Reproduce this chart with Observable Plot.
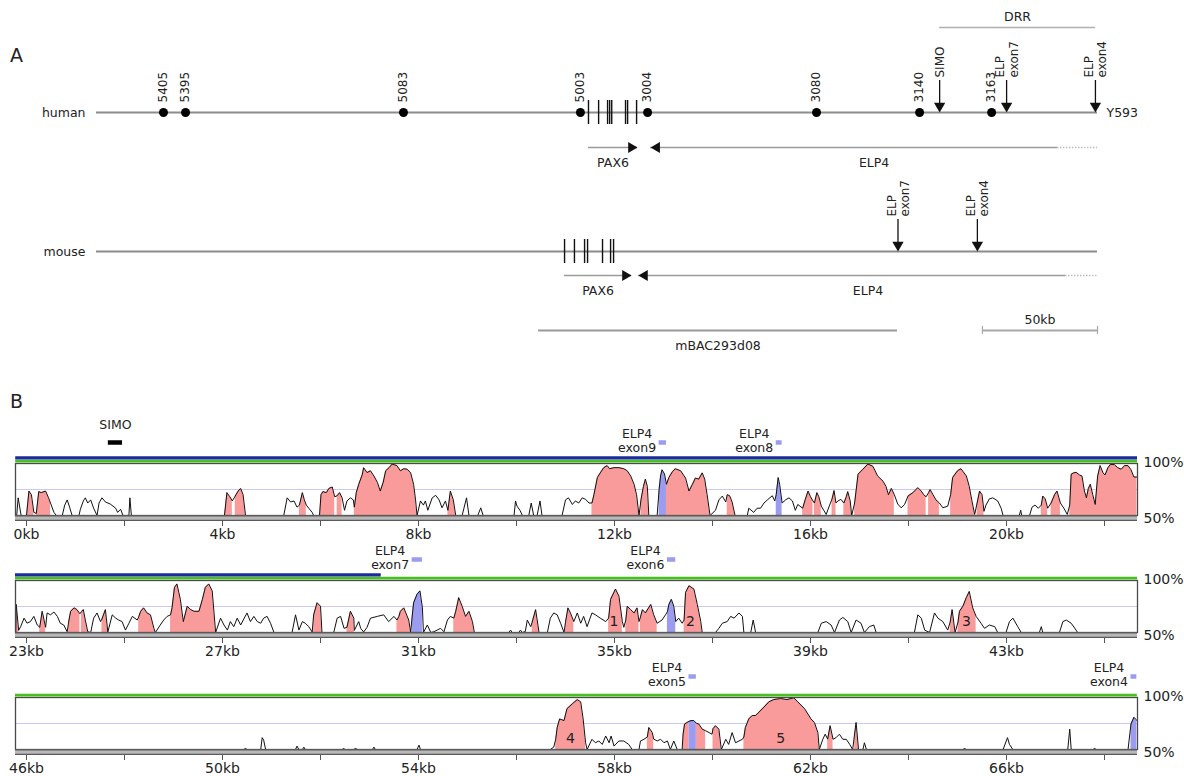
<!DOCTYPE html>
<html>
<head>
<meta charset="utf-8">
<script src="https://cdn.jsdelivr.net/npm/d3@7"></script>
<script src="https://cdn.jsdelivr.net/npm/@observablehq/plot@0.6"></script>
<style>
  body { margin: 0; background: #fff; font-family: "DejaVu Sans", sans-serif; }
  #chart { position: relative; width: 1184px; height: 776px; overflow: hidden; background: #fff; }
  .letter { position: absolute; font-size: 19px; line-height: 1; color: #222; font-family: "DejaVu Sans", sans-serif; }
</style>
</head>
<body>
<div id="chart"></div>
<script>
// ================= DATA : panel A (positions in kb along the human / mouse locus) =================
const locusLengthKb = 435;
const humanMarkerNames = ["5405", "5395", "5083", "5003", "3004", "3080", "3140", "3163"];
const humanMarkerKb = [29.1, 38.7, 133.4, 210.3, 239.5, 312.9, 357.7, 389.0];
const humanPax6ExonKb = [213.8, 218.2, 222.1, 223.0, 223.9, 229.9, 230.8, 234.7];
const mousePax6ExonKb = [203.4, 207.7, 212.1, 213.4, 219.9, 223.4, 224.7];
const humanArrowNames = ["SIMO", "ELP\nexon7", "ELP\nexon4"];
const humanArrowKb = [366.4, 395.5, 434.1];
const mouseArrowNames = ["ELP\nexon7", "ELP\nexon4"];
const mouseArrowKb = [348.3, 382.8];
const geneNames = ["PAX6", "ELP4", "PAX6", "ELP4"];
const geneSpecies = ["human", "human", "mouse", "mouse"];
const geneSolidStartKb = [213.8, 417.6, 203.4, 421.1];
const geneTipKb = [235.1, 240.8, 232.5, 235.5];
const geneDottedEndKb = [null, 435, null, 435];
const drrSpanKb = [366.4, 434.1];
const bacSpanKb = [192.1, 348.1];
const scaleBarKb = [385, 435];
const endLabel = "Y593";

// ================= DATA : panel B (kb, % identity) =================
const rowOffsetsKb = [0, 23, 46];
const profile1 = [
[-0.20,50],[-0.17,67],[-0.11,50],[0.00,50],[0.05,73.5],[0.10,70],[0.15,53],[0.20,52],[0.25,73],[0.30,72],[0.39,73.5],[0.45,67],[0.49,62],[0.56,53],[0.61,50],[0.73,50],[0.78,60],[0.83,65],[0.88,58],[0.93,50],[1.07,50],[1.10,56],[1.16,64],[1.20,67],[1.25,62],[1.31,65],[1.37,57],[1.44,50],[1.48,62],[1.54,67],[1.61,63],[1.71,61],[1.82,57],[1.86,53],[1.92,56],[1.97,50],[2.09,50],[2.11,67],[2.14,50],
[4.04,50],[4.09,72],[4.15,68],[4.20,64],[4.26,68.7],[4.32,73.5],[4.37,76],[4.42,70],[4.47,50],
[5.25,50],[5.32,67],[5.39,63],[5.46,64],[5.52,58],[5.57,60],[5.63,72],[5.67,65],[5.71,60],[5.76,57],[5.83,53],[5.86,50],
[5.98,50],[6.01,70],[6.05,73],[6.12,72],[6.17,76],[6.24,77.4],[6.29,68],[6.34,69],[6.39,72],[6.44,67],[6.49,55],[6.54,64],[6.61,67],[6.67,65],[6.69,58],[6.73,72],[6.78,80],[6.85,89],[6.88,96],[6.95,91.3],[7.02,93],[7.09,88],[7.16,82],[7.22,73.5],[7.28,82],[7.33,93],[7.40,96],[7.46,99.4],[7.56,98],[7.63,93],[7.70,95],[7.77,94.5],[7.84,91],[7.90,80],[7.94,65],[7.97,50],
[8.04,64],[8.10,60],[8.14,64],[8.19,55],[8.28,67],[8.35,69.4],[8.42,65],[8.48,57.4],[8.55,64],[8.60,55],[8.65,73.5],[8.71,65],[8.76,50],
[8.89,50],[8.98,67],[9.03,50],[9.21,50],[9.27,57.4],[9.32,50],[9.95,50],[9.98,64],[10.01,59],[10.07,55],[10.12,50],[10.25,50],[10.30,62],[10.35,50],[10.42,50],[10.48,64],[10.52,50],
[10.93,50],[11.00,65],[11.06,67],[11.14,60.6],[11.20,64],[11.27,62],[11.34,67],[11.41,65.5],[11.48,62],[11.54,62],[11.58,70],[11.65,86.5],[11.71,91],[11.78,96],[11.85,98],[11.90,95],[11.99,96],[12.09,96],[12.19,95],[12.26,93],[12.33,88],[12.40,80],[12.45,70],[12.50,50],[12.54,65],[12.59,78],[12.63,85],[12.67,78],[12.70,50],
[12.87,50],[12.91,75],[12.94,88],[12.97,94],[13.02,90],[13.06,80],[13.11,86.5],[13.18,92],[13.24,95],[13.35,93],[13.45,86],[13.52,73.5],[13.59,80],[13.65,86],[13.72,85],[13.79,91],[13.84,85],[13.89,70],[13.95,50],
[14.06,55],[14.13,65],[14.20,68.7],[14.27,63],[14.30,70],[14.35,69],[14.40,63],[14.46,50],
[14.71,50],[14.74,57],[14.84,53],[14.91,57],[14.98,57],[15.05,62],[15.12,65],[15.17,67],[15.22,69],[15.27,64],[15.30,70],[15.34,86.5],[15.37,80],[15.42,62],[15.49,65],[15.56,67],[15.63,64],[15.69,55],[15.74,60.6],
[15.84,57],[15.89,65],[15.95,73.5],[16.00,68],[16.05,64],[16.08,62],[16.13,72],[16.17,68],[16.22,59],[16.27,55],[16.32,51],[16.39,60],[16.44,66],[16.48,74],[16.52,62],[16.56,64],[16.62,65.5],[16.68,62],[16.73,68],[16.76,73],[16.81,64],[16.84,50],[16.90,62],[16.97,89.7],[17.07,94.5],[17.17,99.4],[17.27,97.5],[17.37,88],[17.48,83],[17.54,78],[17.59,70],[17.65,76],[17.71,70],[17.78,61],[17.85,57.4],[17.92,60.6],[17.99,68.7],[18.09,72],[18.19,76.8],[18.26,73.5],[18.31,70],[18.36,68],[18.41,72],[18.44,75],[18.50,70],[18.56,65],[18.63,62],[18.70,57.4],[18.80,59],[18.86,70],[18.90,86.5],[19.00,93],[19.07,95],[19.18,88],[19.24,78],[19.29,65],[19.35,51],[19.40,62],[19.45,73.5],[19.50,70],[19.54,54],[19.58,60],[19.65,66],[19.72,67],[19.82,64],[19.89,57],[19.93,50],
[20.26,50],[20.29,55],[20.31,50],[20.47,50],[20.52,58],[20.58,60],[20.65,57],[20.71,60],[20.74,68.7],[20.79,66],[20.84,57],[20.91,62],[20.98,70],[21.03,73.5],[21.10,62],[21.17,57],[21.24,51],[21.29,60],[21.32,89.7],[21.37,91],[21.42,91.5],[21.49,89],[21.54,88],[21.59,73.5],[21.63,67],[21.67,76],[21.71,80],[21.76,70],[21.81,60.6],[21.86,88],[21.91,98],[21.97,91],[22.01,89],[22.07,96],[22.12,99],[22.20,99],[22.27,96],[22.34,94.5],[22.41,98],[22.48,98],[22.54,94],[22.60,87],[22.66,87]
];
const profile2 = [
[22.78,50],[22.79,77],[22.84,52],[22.88,55.6],[22.95,63.8],[23.01,59],[23.08,60.5],[23.15,65.5],[23.22,57.2],[23.27,55],[23.32,70.4],[23.39,55],[23.42,68.8],[23.49,67],[23.56,69.7],[23.63,65.5],[23.69,58.9],[23.76,57.2],[23.83,50.7],[23.86,60],[23.90,70.4],[23.97,73.7],[24.03,72],[24.09,68],[24.12,70],[24.16,72],[24.20,62],[24.25,50.7],[24.31,50],[24.37,63.8],[24.44,68.8],[24.51,60.5],[24.54,63],[24.61,72],[24.66,50.5],[24.75,67],[24.82,63.8],[24.88,62],[24.95,60.5],[25.02,52.3],[25.09,58.9],[25.16,65.5],[25.26,62],[25.29,65],[25.33,70.4],[25.39,73.7],[25.46,68.8],[25.53,67],[25.60,54],[25.63,50],[25.73,57.2],[25.80,62],[25.87,65.5],[25.94,67],[25.97,73.7],[26.02,93.4],[26.07,96.7],[26.14,81.9],[26.20,60.5],[26.28,75.3],[26.35,72],[26.42,70.4],[26.52,70.4],[26.59,81.9],[26.65,93.4],[26.72,96.7],[26.79,90],[26.86,50],
[26.96,63.8],[27.03,57.2],[27.10,52.3],[27.16,60.5],[27.23,55.6],[27.30,63.8],[27.37,57.2],[27.50,68.8],[27.57,60.5],[27.64,65.5],[27.71,60.5],[27.78,58.9],[27.84,63.8],[27.91,65.5],[27.98,58.9],[28.05,50],[28.42,50],[28.49,67],[28.56,52.3],[28.63,60.5],[28.69,58.9],[28.76,55.6],[28.83,50.5],[28.86,67],[28.93,78.6],[29.00,75.3],[29.03,50],[29.27,50],[29.34,63.8],[29.41,65.5],[29.48,54],[29.54,55],[29.61,70.4],[29.68,63.8],[29.69,52],[29.78,60.5],[29.82,54],[29.88,50.5],[29.95,55],[30.02,63.8],[30.16,65.5],[30.29,67],[30.39,60.5],[30.50,65.5],[30.56,62],[30.60,65.5],[30.63,70.4],[30.70,73.7],[30.80,62],[30.84,50.5],
[30.87,65],[30.90,78.6],[30.97,86.8],[31.03,90],[31.08,73.7],[31.10,50],[31.18,57.2],[31.25,50],[31.31,50.7],[31.38,52.3],[31.45,54],[31.52,50.7],[31.59,62],[31.65,65.5],[31.72,63.8],[31.76,70.4],[31.82,83.6],[31.89,75.3],[31.96,65.5],[32.03,70.4],[32.10,60.5],[32.14,50],[32.84,50],[32.88,52.3],[32.91,50],[33.05,50],[33.08,52.3],[33.12,50],[33.18,51],[33.22,62],[33.29,55.6],[33.32,60],[33.39,72],[33.46,50],[33.63,50],[33.69,63.8],[33.76,68.8],[33.83,67],[33.90,58.9],[33.97,50],[34.00,60],[34.05,73.7],[34.10,68.8],[34.17,60.5],[34.24,68.8],[34.31,58.9],[34.37,65.5],[34.44,55.6],[34.54,68.8],[34.61,67],[34.71,63.8],[34.82,60.5],[34.88,63.8],[34.92,81.9],[35.02,91.8],[35.09,85],[35.16,60.5],[35.19,55],[35.23,62],[35.26,75.3],[35.33,72],[35.40,68.8],[35.46,73.7],[35.50,60.5],[35.53,65],[35.57,72],[35.63,68.8],[35.74,77],[35.80,67],[35.87,58.9],[35.97,62],[36.04,67],[36.08,70],[36.11,77],[36.16,81.9],[36.21,75.3],[36.25,60.5],[36.31,63.8],[36.38,58.9],[36.42,62],[36.45,88.5],[36.52,95],[36.62,91.8],[36.69,77],[36.76,60.5],[36.79,50],
[37.06,50],[37.13,54],[37.20,58.9],[37.30,60.5],[37.37,65.5],[37.44,63.8],[37.54,68.8],[37.61,65.5],[37.64,50],[37.78,50],[37.83,62],[37.88,50],[39.15,50],[39.22,58.9],[39.32,60.5],[39.42,57.2],[39.49,50],[39.59,62],[39.66,64.5],[39.76,60.5],[39.83,50],[39.93,62],[40.03,58.9],[40.10,50],[40.20,55.6],[40.29,57.2],[40.34,50],[41.12,50],[41.19,67],[41.26,63.8],[41.33,52.3],[41.43,50],[41.53,68.8],[41.60,63.8],[41.70,60.5],[41.80,52.3],[41.85,60],[41.89,72],[41.95,50],[42.01,60],[42.04,70.4],[42.11,75.3],[42.18,83.6],[42.24,89.5],[42.31,73.7],[42.38,65.5],[42.48,58.9],[42.55,54],[42.65,57.2],[42.76,55.6],[42.82,50],[42.99,50],[43.06,60.5],[43.13,63.8],[43.23,55.6],[43.30,50],[43.67,50],[43.71,55.6],[43.74,50],[44.08,50],[44.15,60.5],[44.22,62],[44.32,58.9],[44.42,52.3],[44.45,50]
];
const profile3 = [
[50.43,50],[50.47,51],[50.50,50],[50.78,50],[50.81,61.4],[50.84,59],[50.88,50],[51.49,50],[51.52,53.3],[51.56,50],[51.63,50],[51.66,52.3],[51.69,50],[52.44,50],[52.47,51],[52.50,50],[52.68,50],[52.71,51],[52.76,50],[53.06,50],[53.09,52.3],[53.12,50],[53.97,50],[54.01,54.2],[54.04,50],
[56.69,50],[56.76,52.3],[56.80,60],[56.83,71.2],[56.88,79.4],[56.97,77.8],[57.03,89.2],[57.14,94],[57.24,98],[57.31,95.8],[57.36,79.4],[57.41,56.5],[57.44,50],[57.54,59.8],[57.61,56.5],[57.68,58.2],[57.75,54.9],[57.82,63],[57.89,56.5],[57.93,63],[57.99,53.3],[58.09,58.2],[58.19,58.2],[58.29,54.9],[58.36,50],[58.50,50],[58.53,58.2],[58.60,59.8],[58.67,62],[58.70,71.2],[58.77,66.3],[58.80,60],[58.87,58.2],[58.94,59.8],[59.01,56.5],[59.08,58.2],[59.14,50],[59.21,58.2],[59.28,50],[59.38,50],[59.40,65],[59.43,74.5],[59.48,76],[59.52,77],[59.56,77.8],[59.62,77.8],[59.67,75.2],[59.72,74.5],[59.79,69.6],[59.86,68],[59.93,66.3],[59.99,64.7],[60.01,70],[60.06,72.9],[60.13,69.6],[60.18,50],[60.27,59.8],[60.33,54.9],[60.40,66.3],[60.47,56.5],[60.54,58.2],[60.61,59.8],[60.64,62],[60.67,71.2],[60.74,79.4],[60.81,82.7],[60.88,82.7],[60.95,86],[61.05,90.8],[61.15,95.8],[61.25,98],[61.39,99],[61.52,98],[61.66,99.7],[61.74,95.8],[61.88,89.2],[62.01,79.4],[62.08,76],[62.15,66.3],[62.18,50],[62.25,59.8],[62.30,64.7],[62.35,60],[62.40,72.9],[62.46,59.8],[62.52,61.4],[62.59,64.7],[62.66,59.8],[62.73,59.8],[62.80,54.9],[62.86,50],[62.90,65],[62.93,76],[62.98,50],[63.07,50],[63.10,56.5],[63.14,50],
[65.11,50],[65.14,51],[65.18,50],[65.93,50],[66.02,61.4],[66.06,54.9],[66.13,50],[67.25,50],[67.29,69.6],[67.32,50],[67.76,50],[67.80,51],[67.83,50],[68.48,50],[68.54,74.5],[68.60,81],[68.63,79.4],[68.66,78]
];
// conserved non-coding regions (pink), [start kb, end kb]
const cns1 = [[0.00,0.15],[0.20,0.49],[4.04,4.20],[4.26,4.47],[5.57,5.71],[5.98,6.29],[6.34,6.44],[6.69,7.97],[8.60,8.76],[11.54,12.50],[12.54,12.70],[13.06,13.95],[14.30,14.46],[15.84,16.05],[16.08,16.22],[16.44,16.52],[16.68,16.84],[16.90,17.71],[17.99,18.36],[18.41,18.63],[18.86,19.35],[19.40,19.54],[20.71,20.84],[20.91,21.10],[21.29,22.66]];
const cns2 = [[22.78,22.84],[23.27,23.39],[23.86,24.09],[24.12,24.25],[24.54,24.66],[25.29,25.63],[25.94,26.86],[28.86,29.03],[29.54,29.69],[30.56,30.84],[31.72,32.14],[33.32,33.46],[34.00,34.17],[34.88,35.16],[35.23,35.50],[35.53,35.87],[36.42,36.79],[41.85,41.95],[42.01,42.38]];
const cns3 = [[56.80,57.41],[58.67,58.80],[59.40,59.52],[59.67,59.86],[60.01,60.18],[60.64,62.18],[62.35,62.46],[62.90,62.98]];
// ELP4 exons (blue)
const exonNames = ["ELP4\nexon9", "ELP4\nexon8", "ELP4\nexon7", "ELP4\nexon6", "ELP4\nexon5", "ELP4\nexon4"];
const exonStartKb = [12.91, 15.30, 30.87, 36.08, 59.52, 68.54];
const exonEndKb = [13.06, 15.42, 31.08, 36.25, 59.67, 68.66];
const simoSpanKb = [1.67, 1.96];
const blueTrackKb = [-0.22, 30.24];
const greenTrackKb = [-0.22, 68.67];
const cnsNumberText = ["1", "2", "3", "4", "5"];
const cnsNumberKb = [34.99, 36.55, 42.18, 57.10, 61.39];
const cnsNumberPct = [60.5, 60.5, 60.5, 61, 61];

// ================= STYLE / LAYOUT =================
const FONT = "DejaVu Sans, sans-serif";
const INK = "#222";
const PINK = "#f99b9b";
const LAVENDER = "#9b9bf0";
const chart = document.getElementById("chart");

function place(el, top) {
  el.style.position = "absolute";
  el.style.left = "0px";
  el.style.top = top + "px";
  chart.appendChild(el);
}

// ---------------- Panel A ----------------
const trackY = {drr: 27, human: 112, humanGenes: 147, mouse: 251, mouseGenes: 275, bac: 330};
const geneTrack = {human: trackY.humanGenes, mouse: trackY.mouseGenes};

const speciesRows = [
  {name: "human", y: trackY.human},
  {name: "mouse", y: trackY.mouse}
];
const markers = humanMarkerNames.map((name, i) => ({name, kb: humanMarkerKb[i]}));
const arrows = [
  ...humanArrowNames.map((name, i) => ({name, kb: humanArrowKb[i], y: trackY.human})),
  ...mouseArrowNames.map((name, i) => ({name, kb: mouseArrowKb[i], y: trackY.mouse}))
];
const exonTicks = [
  ...humanPax6ExonKb.map(kb => ({kb, y: trackY.human})),
  ...mousePax6ExonKb.map(kb => ({kb, y: trackY.mouse}))
];
const genes = geneNames.map((name, i) => ({
  name, y: geneTrack[geneSpecies[i]],
  start: geneSolidStartKb[i], tip: geneTipKb[i], dottedEnd: geneDottedEndKb[i],
  mid: (geneTipKb[i] + (geneDottedEndKb[i] ?? geneSolidStartKb[i])) / 2
}));
const spansAbove = [
  {label: "DRR", start: drrSpanKb[0], end: drrSpanKb[1], y: trackY.drr, color: "#b0b0b0", w: 1.5},
  {label: "50kb", start: scaleBarKb[0], end: scaleBarKb[1], y: trackY.bac, color: "#a8a8a8", w: 2}
];
const spansBelow = [
  {label: "mBAC293d08", start: bacSpanKb[0], end: bacSpanKb[1], y: trackY.bac, color: "#9a9a9a", w: 2}
];

const panelA = Plot.plot({
  width: 1184, height: 360,
  marginTop: 0, marginBottom: 0, marginLeft: 0, marginRight: 0,
  x: {domain: [0, locusLengthKb], range: [96, 1097], axis: null, label: null},
  y: {domain: [0, 360], range: [0, 360], axis: null, label: null},
  style: {fontFamily: FONT, fontSize: "12px", color: INK, background: "transparent", overflow: "visible"},
  marks: [
    Plot.ruleY([...spansAbove, ...spansBelow], {x1: "start", x2: "end", y: "y", stroke: "color", strokeWidth: "w"}),
    Plot.ruleX(scaleBarKb, {x: d => d, y1: trackY.bac - 4, y2: trackY.bac + 4, stroke: "#a8a8a8", strokeWidth: 1.2}),
    Plot.text(spansAbove, {x: d => (d.start + d.end) / 2, y: "y", text: "label", dy: -11, fontSize: 12.5}),
    Plot.text(spansBelow, {x: d => (d.start + d.end) / 2, y: "y", text: "label", dy: 15, fontSize: 12.5}),
    Plot.ruleY(speciesRows, {x1: 0, x2: locusLengthKb, y: "y", stroke: "#8c8c8c", strokeWidth: 1.8}),
    Plot.text(speciesRows, {x: 0, y: "y", text: "name", textAnchor: "end", dx: -11, fontSize: 12.5}),
    Plot.text([endLabel], {x: locusLengthKb, y: trackY.human, text: d => d, textAnchor: "start", dx: 9, fontSize: 12.5}),
    Plot.ruleX(exonTicks, {x: "kb", y1: d => d.y - 12, y2: d => d.y + 12, stroke: "#111", strokeWidth: 1.4}),
    Plot.dot(markers, {x: "kb", y: trackY.human, r: 4.5, fill: "#000"}),
    Plot.text(markers, {x: "kb", y: trackY.human, text: "name", rotate: -90, textAnchor: "start", dy: -10, fontSize: 12}),
    Plot.ruleX(arrows, {x: "kb", y1: d => d.y - 32, y2: d => d.y - 8, stroke: "#111", strokeWidth: 1.3}),
    Plot.dot(arrows, {x: "kb", y: "y", symbol: "triangle", rotate: 180, r: 4.2, fill: "#111", dy: -6.5}),
    Plot.text(arrows, {x: "kb", y: "y", text: "name", rotate: -90, textAnchor: "start", dy: -35, lineHeight: 1.12, fontSize: 12}),
    Plot.ruleY(genes.filter(g => g.dottedEnd != null), {x1: "start", x2: "dottedEnd", y: "y", stroke: "#bdbdbd", strokeWidth: 1.4, strokeDasharray: "1.5,1.5"}),
    Plot.ruleY(genes, {x1: "start", x2: "tip", y: "y", stroke: "#9a9a9a", strokeWidth: 1.6}),
    Plot.dot(genes.filter(g => g.tip > g.start), {x: "tip", y: "y", symbol: "triangle", rotate: 90, r: 4, fill: "#111", dx: -6.2}),
    Plot.dot(genes.filter(g => g.tip < g.start), {x: "tip", y: "y", symbol: "triangle", rotate: -90, r: 4, fill: "#111", dx: 6.2}),
    Plot.text(genes, {x: "mid", y: "y", text: "name", dy: 15, fontSize: 12.5})
  ]
});
place(panelA, 0);

// ---------------- Panel B ----------------
const rowProfiles = [profile1, profile2, profile3];
const rowCns = [cns1, cns2, cns3];
const rowLayout = [
  {top: 400, height: 145, marginTop: 63, marginBottom: 30},
  {top: 545, height: 117, marginTop: 35, marginBottom: 30},
  {top: 662, height: 114, marginTop: 35, marginBottom: 27}
];
const exons = exonNames.map((name, i) => ({name, start: exonStartKb[i], end: exonEndKb[i]}));
const cnsNumbers = cnsNumberText.map((t, i) => ({t, kb: cnsNumberKb[i], pct: cnsNumberPct[i]}));

rowOffsetsKb.forEach((off, r) => {
  const lo = off - 0.2245, hi = off + 22.673;
  const inRow = kb => kb >= lo && kb <= hi;
  const profile = rowProfiles[r];
  const rowExons = exons.filter(e => inRow(e.start));
  const regions = [
    ...rowCns[r].map(([s, e]) => ({s, e, type: "cns"})),
    ...rowExons.map(e => ({s: e.start, e: e.end, type: "exon"}))
  ];
  const area = [];
  regions.forEach((reg, id) => {
    for (const [x, y] of profile) if (x >= reg.s - 1e-6 && x <= reg.e + 1e-6) area.push({x, y, id, type: reg.type});
  });
  const clipSpan = ([s, e]) => ({s: Math.max(s, lo), e: Math.min(e, hi)});
  const blue = [clipSpan(blueTrackKb)].filter(d => d.e > d.s);
  const green = [clipSpan(greenTrackKb)].filter(d => d.e > d.s);
  const simo = r === 0 ? [{label: "SIMO", s: simoSpanKb[0], e: simoSpanKb[1]}] : [];
  const numbers = cnsNumbers.filter(d => inRow(d.kb));
  const L = rowLayout[r];

  const svg = Plot.plot({
    width: 1184, height: L.height,
    marginTop: L.marginTop, marginBottom: L.marginBottom, marginLeft: 15, marginRight: 47,
    x: {domain: [lo, hi], label: null},
    y: {domain: [50, 100], label: null},
    style: {fontFamily: FONT, fontSize: "14px", color: INK, background: "transparent", overflow: "visible"},
    marks: [
      Plot.ruleY([75], {stroke: "#c9c9f3", strokeWidth: 1}),
      Plot.areaY(area, {x: "x", y1: 50, y2: "y", z: "id", fill: d => d.type === "exon" ? LAVENDER : PINK, clip: true}),
      Plot.line(profile, {x: d => d[0], y: d => d[1], stroke: "#111", strokeWidth: 1, clip: true}),
      Plot.text(numbers, {x: "kb", y: "pct", text: "t", fontSize: 14, fill: "#222"}),
      Plot.frame({stroke: "#4a4a4a", strokeWidth: 1.3}),
      Plot.ruleY([50], {dy: 2.6, stroke: "#5a5a5a", strokeWidth: 6}),
      Plot.ruleY([50], {dy: 2.6, stroke: "#b8b8b8", strokeWidth: 3.4}),
      Plot.ruleY(green, {x1: "s", x2: "e", y: 100, dy: -2.4, stroke: "#46bf1f", strokeWidth: 2.8}),
      Plot.ruleY(blue, {x1: "s", x2: "e", y: 100, dy: -5.6, stroke: "#1b2a9e", strokeWidth: 3.2}),
      Plot.ruleY(rowExons, {x1: "start", x2: "end", y: 100, dy: -21, stroke: LAVENDER, strokeWidth: 4.5}),
      Plot.text(rowExons, {x: "start", y: 100, text: "name", dx: -22, dy: -23, lineHeight: 1.12, fontSize: 12.5}),
      Plot.ruleY(simo, {x1: "s", x2: "e", y: 100, dy: -21, stroke: "#000", strokeWidth: 4.5}),
      Plot.text(simo, {x: d => (d.s + d.e) / 2, y: 100, text: "label", dy: -39, fontSize: 12.5}),
      Plot.axisX({
        ticks: d3.range(off, off + 23, 2),
        tickFormat: d => ((d - off) % 4 === 0 ? `${d}kb` : ""),
        tickSize: 5, tickPadding: 3, dy: 6, fontSize: 14, stroke: "#555"
      }),
      Plot.axisY({anchor: "right", ticks: [100], tickFormat: d => `${d}%`, tickSize: 0, tickPadding: 6, fontSize: 14, dy: -1}),
      Plot.axisY({anchor: "right", ticks: [50], tickFormat: d => `${d}%`, tickSize: 0, tickPadding: 6, fontSize: 14, dy: 3})
    ]
  });
  place(svg, L.top);
});

for (const [t, top] of [["A", 46], ["B", 392]]) {
  const d = document.createElement("div");
  d.className = "letter";
  d.textContent = t;
  d.style.left = "10px";
  d.style.top = top + "px";
  chart.appendChild(d);
}
</script>
</body>
</html>
